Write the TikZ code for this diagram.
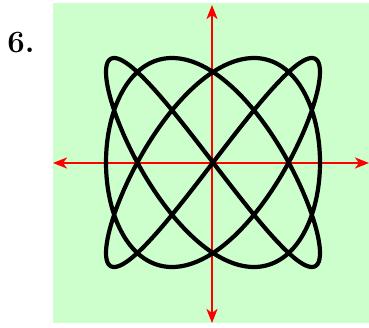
\documentclass[tikz,border=0pt]{standalone}
\usetikzlibrary{arrows.meta}
\definecolor{panelgreen}{HTML}{CCFFCC}
\definecolor{axisred}{HTML}{FF0000}

\begin{document}
\begin{tikzpicture}[
x=1pt, y=1pt,
axis/.style={{Stealth[length=14pt,width=11pt,inset=4pt]}-{Stealth[length=14pt,width=11pt,inset=4pt]}, axisred, line width=2.8pt},
curve/.style={black, line width=4.2pt, line join=round},
label/.style={font=\fontsize{31}{32}\selectfont\bfseries}
]
\useasboundingbox (-212,-164) rectangle (157,163);
\fill[panelgreen] (-159,-160) rectangle (157,160);
\node[label] (num) at (-191,120) {6.};
% axes
\coordinate (west) at (-159,0);
\coordinate (east) at (157,0);
\coordinate (north) at (0,158);
\coordinate (south) at (0,-160);
\draw[axis] (west)--(east);
\draw[axis] (south)--(north);
% lissajous 3:4
\draw[curve] plot[domain=0:360, samples=361, variable=\t, smooth] ({1+107*sin(3*\t)}, {0.5+104.5*sin(4*\t)}) -- cycle;
\end{tikzpicture}
\end{document}
